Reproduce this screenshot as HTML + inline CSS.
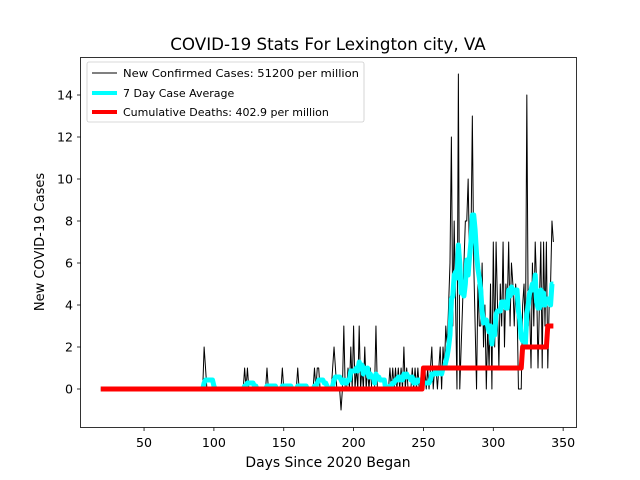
<!DOCTYPE html>
<html><head><meta charset="utf-8"><style>
body{margin:0;background:#fff;}
svg{display:block;font-family:"DejaVu Sans","Liberation Sans",sans-serif;}
</style></head><body>
<svg id="chart" width="640" height="480" viewBox="0 0 640 480">
<rect width="640" height="480" fill="#fff"/>
<text x="328" y="50" font-size="16.7" text-anchor="middle">COVID-19 Stats For Lexington city, VA</text>
<text x="328" y="467" font-size="13.9" text-anchor="middle">Days Since 2020 Began</text>
<text x="0" y="0" font-size="13" text-anchor="middle" transform="translate(44,242) rotate(-90)">New COVID-19 Cases</text>
<g id="ticks"></g>
<g id="series"></g>
<rect x="80.5" y="57.5" width="496" height="370" fill="none" stroke="#000" stroke-width="0.8"/>
<g>
<rect x="87" y="62" width="277" height="60" rx="2" fill="#fff" fill-opacity="0.8" stroke="#ccc" stroke-width="0.8"/>
<line x1="92" y1="73" x2="117" y2="73" stroke="#000" stroke-width="1"/>
<text x="123" y="77" font-size="11" textLength="236" lengthAdjust="spacingAndGlyphs">New Confirmed Cases: 51200 per million</text>
<line x1="92" y1="93" x2="117" y2="93" stroke="#00ffff" stroke-width="4"/>
<text x="123" y="97" font-size="11">7 Day Case Average</text>
<line x1="92" y1="112" x2="117" y2="112" stroke="#ff0000" stroke-width="4"/>
<text x="123" y="116" font-size="11">Cumulative Deaths: 402.9 per million</text>
</g>
</svg>
<script>
const startDay = 19;
const endDay = 343;
const caseSpikeDays = [93,94,122,124,138,149,160,172,174,175,185,186,187,191,193,196,198,200,202,204,206,208,210,212,216,226,228,230,232,234,236,238,242,244,246];
const caseSpikeValues = [2,1,1,1,1,1,1,1,1,1,1,2,1,-1,3,1,2,3,1,3,1,2,1,1,3,1,1,1,1,1,2,1,1,1,1];
const lateCases = [0,1,0,1,0,1,2,0,1,1, 0,1,2,0,2,1,3,2,4,6, 12,3,8,4,0,15,0,2,4,6, 8,8,10,6,7,13,6,3,0,5, 3,3,6,2,4,0,3,1,5,0, 7,2,7,4,1,5,3,7,2,5,4,7,3,6,5,3,5,4,0,0,0,4,5,2,14,3,4,1,6,3,7,5,1,4,7,1,7,3,7,1,4,5,8,7];
const lateStart = 250;
const deathStepDays = [250,321,339];
const deathStepValues = [1,2,3];
const xTicks = [50,100,150,200,250,300,350];
const yTicks = [0,2,4,6,8,10,12,14];

const xs = d => 74.2 + d*1.397;
const ys = v => 389 - v*21;
const NS = "http://www.w3.org/2000/svg";

const days=[], cases=[];
for(let d=startDay; d<=endDay; d++){
  days.push(d);
  let v=0;
  const i=caseSpikeDays.indexOf(d);
  if(i>=0) v=caseSpikeValues[i];
  if(d>=lateStart) v=lateCases[d-lateStart];
  cases.push(v);
}
const avg = cases.map((v,i)=>{let s=0,n=0;for(let k=Math.max(0,i-6);k<=i;k++){s+=cases[k];n++;}return s/n;});
const deaths = days.map(d=>{let v=0;deathStepDays.forEach((sd,j)=>{if(d>=sd)v=deathStepValues[j];});return v;});

const ticks=document.getElementById('ticks');
xTicks.forEach(t=>{
  const l=document.createElementNS(NS,'line');
  l.setAttribute('x1',xs(t));l.setAttribute('x2',xs(t));l.setAttribute('y1',427.5);l.setAttribute('y2',431);l.setAttribute('stroke','#000');l.setAttribute('stroke-width','0.8');
  
  
  ticks.appendChild(l);
  const tx=document.createElementNS(NS,'text');
  tx.setAttribute('x',xs(t));tx.setAttribute('y',447);tx.setAttribute('font-size','12.6');tx.setAttribute('text-anchor','middle');tx.textContent=t;
  
  
  ticks.appendChild(tx);
});
yTicks.forEach(t=>{
  const l=document.createElementNS(NS,'line');
  l.setAttribute('x1',77);l.setAttribute('x2',80.5);l.setAttribute('y1',ys(t));l.setAttribute('y2',ys(t));l.setAttribute('stroke','#000');l.setAttribute('stroke-width','0.8');
  
  
  ticks.appendChild(l);
  const tx=document.createElementNS(NS,'text');
  tx.setAttribute('x',73);tx.setAttribute('y',ys(t)+4.5);tx.setAttribute('font-size','12.6');tx.setAttribute('text-anchor','end');tx.textContent=t;
  
  
  ticks.appendChild(tx);
});
const series=document.getElementById('series');
function addLine(vals,color,w,name){
  const p=document.createElementNS(NS,'polyline');
  p.setAttribute('points',days.map((d,i)=>xs(d).toFixed(2)+','+ys(vals[i]).toFixed(2)).join(' '));
  p.setAttribute('fill','none');p.setAttribute('stroke',color);p.setAttribute('stroke-width',w);p.setAttribute('stroke-linejoin','round');
  
  
  series.appendChild(p);
}
addLine(cases,'#000','1','new-cases-line');
addLine(avg,'#00ffff','5','seven-day-average-line');
addLine(deaths,'#ff0000','5','cumulative-deaths-line');
</script>
</body></html>
